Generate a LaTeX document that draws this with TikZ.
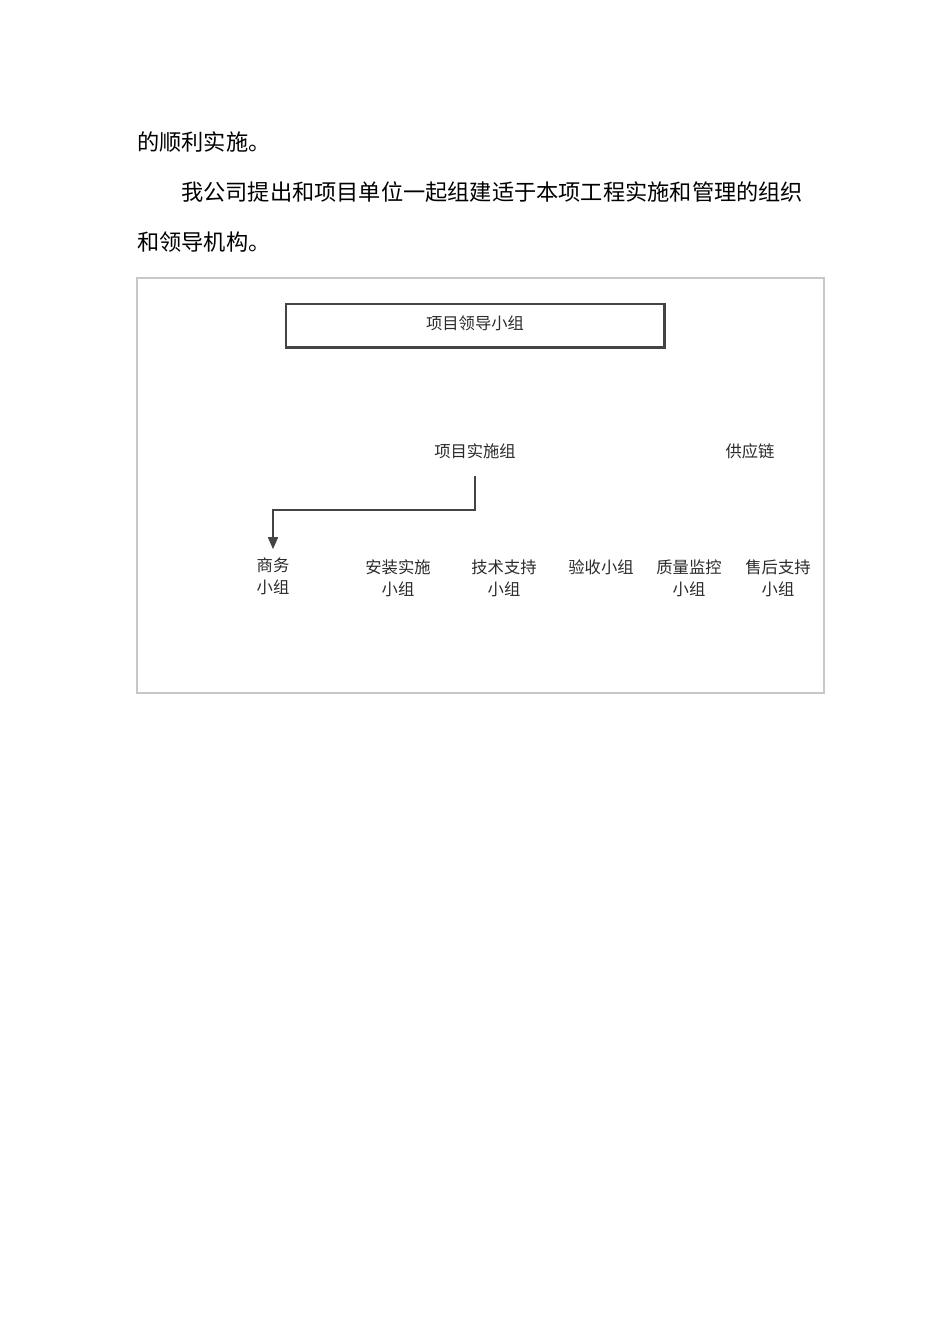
\documentclass[tikz,border=0pt]{standalone}
\usepackage{fontspec}
\setmainfont{Liberation Serif}
\newfontfamily\cjk{Noto Sans CJK SC}
\usetikzlibrary{arrows.meta}
\definecolor{framegray}{HTML}{C8C8C8}
\definecolor{boxgray}{HTML}{444444}
\definecolor{inkgray}{HTML}{2A2A2A}
\tikzset{
  body/.style={anchor=west,inner sep=0pt,font=\cjk\fontsize{13.9}{14}\selectfont,text=black},
  lbl/.style={inner sep=0pt,align=center,font=\cjk\fontsize{10.2}{13.8}\selectfont,text=inkgray},
  leadbox/.style={draw=boxgray,line width=0.8pt,minimum width=236.6pt,minimum height=26.9pt,inner sep=0pt,font=\cjk\fontsize{10.2}{12}\selectfont,text=inkgray},
  link/.style={draw=boxgray,line width=0.9pt,-{Triangle[length=7.5pt,width=6.3pt]}},
}
\begin{document}
\begin{tikzpicture}[x=0.626pt,y=-0.626pt]
\useasboundingbox[fill=white] (0,0) rectangle (950,1344);
% paragraph text
\node[body] (t1) at (137,142) {的顺利实施。};
\node[body] (t2) at (181,192) {我公司提出和项目单位一起组建适于本项工程实施和管理的组织};
\node[body] (t3) at (137,242) {和领导机构。};
% outer frame
\draw[framegray,line width=0.8pt] (137,278) rectangle (824,693);
% leadership box
\node[leadbox] (lead) at (475,325.5) {\raisebox{4pt}{项目领导小组}};
\draw[boxgray,line width=1.2pt] (lead.north east) -- (lead.south east) -- (lead.south west);
% second level
\node[lbl] (impl) at (475,451) {项目实施组};
\node[lbl] (supply) at (750,451) {供应链};
% third level
\node[lbl] (sw) at (273,576) {商务\\小组};
\node[lbl] (az) at (398,578) {安装实施\\小组};
\node[lbl] (js) at (504,578) {技术支持\\小组};
\node[lbl] (ys) at (601,567) {验收小组};
\node[lbl] (zl) at (689,578) {质量监控\\小组};
\node[lbl] (sh) at (778,578) {售后支持\\小组};
% connector
\draw[link,shorten <=10.6pt,shorten >=5pt] (impl.south) -- ++(0,51) -| (sw.north);
\end{tikzpicture}
\end{document}
